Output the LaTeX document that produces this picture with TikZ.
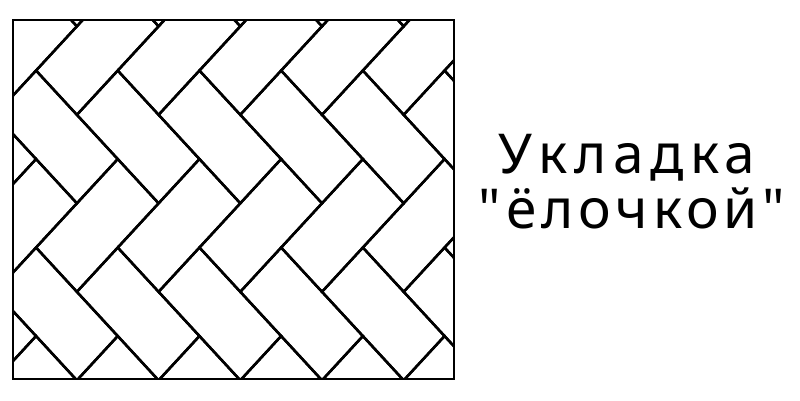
\documentclass[tikz,border=0pt]{standalone}
\usepackage{fontspec}
\setmainfont{Noto Sans}
\newfontfamily\labelfont[LetterSpace=9]{Noto Sans}
\newfontfamily\labelfontwide[LetterSpace=12]{Noto Sans}
\tikzset{
  brick/.style={draw=black, line width=2.5pt, line join=miter},
  frame/.style={draw=black, line width=2.7pt},
  caption/.style={font=\labelfont\fontsize{55}{55}\selectfont, text=black, anchor=base, inner sep=0pt},
  captionwide/.style={font=\labelfontwide\fontsize{55}{55}\selectfont, text=black, anchor=base, inner sep=0pt}
}
\begin{document}
\begin{tikzpicture}[x=1pt,y=-1pt]
\useasboundingbox (0,0) rectangle (800,400);
\fill[white] (0,0) rectangle (800,400);
\begin{scope}
  \clip (13,20) rectangle (454,379);
  \foreach \j in {-2,...,6}{
    \foreach \m in {-2,...,2}{
      \begin{scope}[shift={({-4.8+\j*81.7},{114.8+\m*177})}]
        \draw[brick] (0,0) -- (81.7,88.5) -- (122.55,44.25) -- (40.85,-44.25) -- cycle;
        \draw[brick] (40.85,-44.25) -- (81.7,0) -- (163.4,-88.5) -- (122.55,-132.75) -- cycle;
      \end{scope}
    }
  }
\end{scope}
\draw[frame] (13,20) rectangle (454,379);
\node[captionwide] (t1) at (627,173) {Укладка};
\node[caption] (t2) at (632,228) {"ёлочкой"};
\end{tikzpicture}
\end{document}
